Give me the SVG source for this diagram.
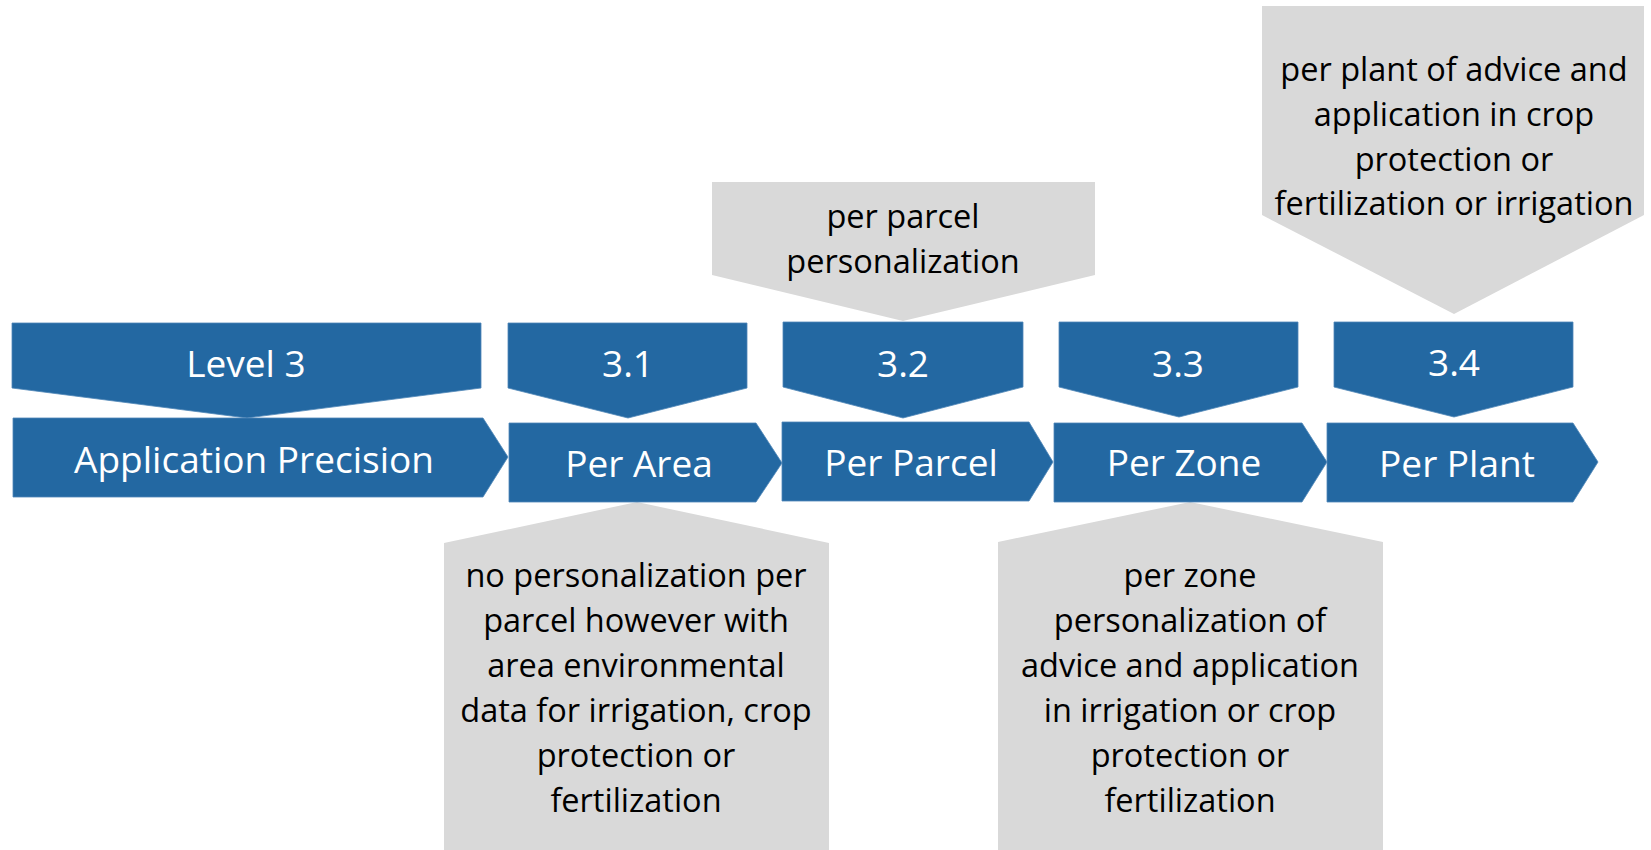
<svg xmlns="http://www.w3.org/2000/svg" width="1651" height="850" viewBox="0 0 1651 850">
<style>
.blue{fill:#2368a2;stroke:#4f86b8;stroke-width:0.8}
.grey{fill:#d9d9d9}
.hw{font-family:"Open Sans","Liberation Sans",sans-serif;font-size:37px;fill:#ffffff;text-anchor:middle}
.bt{font-family:"Open Sans","Liberation Sans",sans-serif;font-size:32.5px;fill:#000000;text-anchor:middle}
</style>
<rect width="1651" height="850" fill="#ffffff"/>
<g id="connectors"></g>
<g id="note-3-2">
<path class="grey" d="M712,182 H1095 V275 L903,321 L712,275 Z"/>
<text class="bt" x="903" y="228">per parcel</text>
<text class="bt" x="903" y="273">personalization</text>
</g>
<g id="note-3-4">
<path class="grey" d="M1262,6 H1644 V215 L1454,314 L1262,215 Z"/>
<text class="bt" x="1454" y="81">per plant of advice and</text>
<text class="bt" x="1454" y="126">application in crop</text>
<text class="bt" x="1454" y="171">protection or</text>
<text class="bt" x="1454" y="215">fertilization or irrigation</text>
</g>
<g id="note-3-1">
<path class="grey" d="M637,502 L829,543 V850 H444 V543 Z"/>
<text class="bt" x="636" y="587">no personalization per</text>
<text class="bt" x="636" y="632">parcel however with</text>
<text class="bt" x="636" y="677">area environmental</text>
<text class="bt" x="636" y="722">data for irrigation, crop</text>
<text class="bt" x="636" y="767">protection or</text>
<text class="bt" x="636" y="812">fertilization</text>
</g>
<g id="note-3-3">
<path class="grey" d="M1190,502 L1383,542 V850 H998 V542 Z"/>
<text class="bt" x="1190" y="587">per zone</text>
<text class="bt" x="1190" y="632">personalization of</text>
<text class="bt" x="1190" y="677">advice and application</text>
<text class="bt" x="1190" y="722">in irrigation or crop</text>
<text class="bt" x="1190" y="767">protection or</text>
<text class="bt" x="1190" y="812">fertilization</text>
</g>
<g id="level-3">
<path class="blue" d="M12,323 H481 V388 L247,418 L12,388 Z"/>
<text class="hw" x="246" y="377">Level 3</text>
</g>
<g id="application-precision">
<path class="blue" d="M13,418 H483 L508,457 L483,497 H13 Z"/>
<text class="hw" x="254" y="473">Application Precision</text>
</g>
<g id="level-3-1">
<path class="blue" d="M508,323 H747 V388 L628,418 L508,388 Z"/>
<text class="hw" x="628" y="377">3.1</text>
</g>
<g id="per-area">
<path class="blue" d="M509,423 H756 L782,463 L756,502 H509 Z"/>
<text class="hw" x="639" y="477">Per Area</text>
</g>
<g id="level-3-2">
<path class="blue" d="M783,322 H1023 V387 L903,418 L783,387 Z"/>
<text class="hw" x="903" y="377">3.2</text>
</g>
<g id="per-parcel">
<path class="blue" d="M782,422 H1029 L1053,462 L1029,501 H782 Z"/>
<text class="hw" x="911" y="476">Per Parcel</text>
</g>
<g id="level-3-3">
<path class="blue" d="M1059,322 H1298 V387 L1179,417 L1059,387 Z"/>
<text class="hw" x="1178" y="377">3.3</text>
</g>
<g id="per-zone">
<path class="blue" d="M1054,423 H1302 L1327,462 L1302,502 H1054 Z"/>
<text class="hw" x="1184" y="476">Per Zone</text>
</g>
<g id="level-3-4">
<path class="blue" d="M1334,322 H1573 V387 L1454,417 L1334,387 Z"/>
<text class="hw" x="1454" y="376">3.4</text>
</g>
<g id="per-plant">
<path class="blue" d="M1327,423 H1573 L1598,462 L1573,502 H1327 Z"/>
<text class="hw" x="1457" y="477">Per Plant</text>
</g>
</svg>
